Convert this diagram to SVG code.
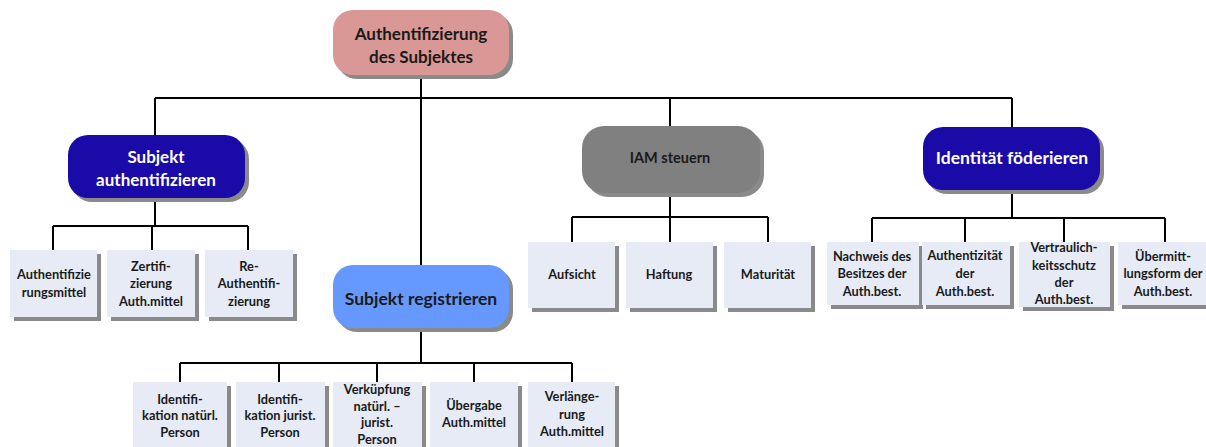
<svg xmlns="http://www.w3.org/2000/svg" width="1206" height="447" viewBox="0 0 1206 447">
<style>
.sh{fill:#8a8a8a}
.box{fill:#e6ebf6}
.t{font-family:Lato,"Open Sans",sans-serif;font-weight:bold;font-size:12.8px;fill:#1a1a1a;text-anchor:middle}
.big{font-family:Lato,"Open Sans",sans-serif;font-weight:bold;text-anchor:middle}
.ln{fill:none;stroke:#000;stroke-width:2}
</style>
<rect width="1206" height="447" fill="#fff"/>
<g id="connectors">
<path class="ln" d="M421 75V98M155 98H1012M155 98V136M421 98V266M670 98V126M1012 98V128"/>
<path class="ln" d="M155 198V226M53 226H248M53 226V250M152 226V250M248 226V250"/>
<path class="ln" d="M421 328V363M180 363H572M180 363V382M279 363V382M377 363V382M474 363V382M572 363V382"/>
<path class="ln" d="M670 194V217M572 217H768M572 217V242M670 217V242M768 217V242"/>
<path class="ln" d="M1012 190V218M872 218H1165M872 218V242M965 218V242M1064 218V242M1165 218V242"/>
</g>
<g id="root">
<rect class="sh" x="337" y="14" width="176" height="65" rx="20"/>
<rect x="333" y="10" width="176" height="65" rx="20" fill="#d99795"/>
<text class="big" font-size="17" fill="#1a1a1a"><tspan x="421" y="40">Authentifizierung</tspan><tspan x="421" y="63">des Subjektes</tspan></text>
</g>
<g id="n-subjekt-auth">
<rect class="sh" x="72" y="139" width="177" height="63" rx="20"/>
<rect x="68" y="135" width="177" height="63" rx="20" fill="#1a0aa8"/>
<text class="big" font-size="17" fill="#fff"><tspan x="156" y="163">Subjekt</tspan><tspan x="156" y="186">authentifizieren</tspan></text>
</g>
<g id="n-subjekt-reg">
<rect class="sh" x="337" y="269" width="176" height="63" rx="20"/>
<rect x="333" y="265" width="176" height="63" rx="20" fill="#6699ff"/>
<text class="big" font-size="17.5" fill="#1a1a1a" x="421" y="305">Subjekt registrieren</text>
</g>
<g id="n-iam">
<rect class="sh" x="586" y="130" width="178" height="67" rx="22"/>
<rect x="582" y="126" width="178" height="67" rx="22" fill="#808080"/>
<text class="big" font-size="14.5" fill="#1a1a1a" x="670" y="163">IAM steuern</text>
</g>
<g id="n-ident">
<rect class="sh" x="927" y="131" width="177" height="63" rx="20"/>
<rect x="923" y="127" width="177" height="63" rx="20" fill="#1a0aa8"/>
<text class="big" font-size="17.5" fill="#fff" x="1012" y="164">Identität föderieren</text>
</g>
<g id="b1">
<rect class="sh" x="14" y="254" width="87" height="67"/>
<rect class="box" x="10" y="250" width="87" height="67"/>
<text class="t"><tspan x="54" y="279">Authentifizie</tspan><tspan x="54" y="297">rungsmittel</tspan></text>
</g>
<g id="b2">
<rect class="sh" x="111" y="254" width="88" height="67"/>
<rect class="box" x="107" y="250" width="88" height="67"/>
<text class="t"><tspan x="151" y="271">Zertifi-</tspan><tspan x="151" y="288">zierung</tspan><tspan x="151" y="306">Auth.mittel</tspan></text>
</g>
<g id="b3">
<rect class="sh" x="209" y="254" width="88" height="67"/>
<rect class="box" x="205" y="250" width="88" height="67"/>
<text class="t"><tspan x="249" y="271">Re-</tspan><tspan x="249" y="288">Authentifi-</tspan><tspan x="249" y="306">zierung</tspan></text>
</g>
<g id="b4">
<rect class="sh" x="532" y="246" width="87" height="66"/>
<rect class="box" x="528" y="242" width="87" height="66"/>
<text class="t" x="572" y="279">Aufsicht</text>
</g>
<g id="b5">
<rect class="sh" x="630" y="246" width="87" height="66"/>
<rect class="box" x="626" y="242" width="87" height="66"/>
<text class="t" x="669" y="279">Haftung</text>
</g>
<g id="b6">
<rect class="sh" x="728" y="246" width="87" height="66"/>
<rect class="box" x="724" y="242" width="87" height="66"/>
<text class="t" x="768" y="279">Maturität</text>
</g>
<g id="b7">
<rect class="sh" x="831" y="246" width="92" height="63"/>
<rect class="box" x="827" y="242" width="92" height="63"/>
<text class="t"><tspan x="872" y="261">Nachweis des</tspan><tspan x="872" y="278">Besitzes der</tspan><tspan x="872" y="296">Auth.best.</tspan></text>
</g>
<g id="b8">
<rect class="sh" x="926" y="246" width="88" height="63"/>
<rect class="box" x="922" y="242" width="88" height="63"/>
<text class="t"><tspan x="965" y="260">Authentizität</tspan><tspan x="965" y="278">der</tspan><tspan x="965" y="296">Auth.best.</tspan></text>
</g>
<g id="b9">
<rect class="sh" x="1023" y="246" width="91" height="65"/>
<rect class="box" x="1019" y="242" width="91" height="65"/>
<text class="t"><tspan x="1064" y="252">Vertraulich-</tspan><tspan x="1064" y="270">keitsschutz</tspan><tspan x="1064" y="287">der</tspan><tspan x="1064" y="304">Auth.best.</tspan></text>
</g>
<g id="b10">
<rect class="sh" x="1122" y="246" width="90" height="63"/>
<rect class="box" x="1118" y="242" width="90" height="63"/>
<text class="t"><tspan x="1163" y="261">Übermitt-</tspan><tspan x="1163" y="278">lungsform der</tspan><tspan x="1163" y="296">Auth.best.</tspan></text>
</g>
<g id="b11">
<rect class="sh" x="137" y="386" width="94" height="70"/>
<rect class="box" x="133" y="382" width="94" height="70"/>
<text class="t"><tspan x="180" y="404">Identifi-</tspan><tspan x="180" y="420">kation natürl.</tspan><tspan x="180" y="437">Person</tspan></text>
</g>
<g id="b12">
<rect class="sh" x="240" y="386" width="89" height="70"/>
<rect class="box" x="236" y="382" width="89" height="70"/>
<text class="t"><tspan x="280" y="404">Identifi-</tspan><tspan x="280" y="420">kation jurist.</tspan><tspan x="280" y="437">Person</tspan></text>
</g>
<g id="b13">
<rect class="sh" x="337" y="386" width="89" height="70"/>
<rect class="box" x="333" y="382" width="89" height="70"/>
<text class="t"><tspan x="377" y="394">Verküpfung</tspan><tspan x="377" y="411">natürl. –</tspan><tspan x="377" y="427">jurist.</tspan><tspan x="377" y="444">Person</tspan></text>
</g>
<g id="b14">
<rect class="sh" x="434" y="386" width="88" height="70"/>
<rect class="box" x="430" y="382" width="88" height="70"/>
<text class="t"><tspan x="474" y="410">Übergabe</tspan><tspan x="474" y="427">Auth.mittel</tspan></text>
</g>
<g id="b15">
<rect class="sh" x="532" y="386" width="87" height="70"/>
<rect class="box" x="528" y="382" width="87" height="70"/>
<text class="t"><tspan x="572" y="401">Verlänge-</tspan><tspan x="572" y="419">rung</tspan><tspan x="572" y="436">Auth.mittel</tspan></text>
</g>
</svg>
